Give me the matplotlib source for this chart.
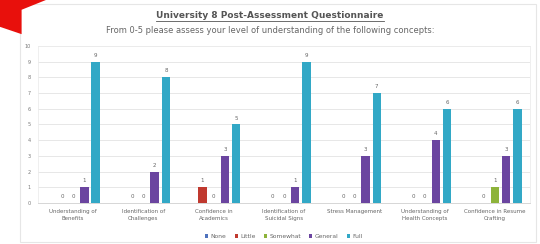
import numpy as np
import matplotlib
matplotlib.use("Agg")
import matplotlib.pyplot as plt
from matplotlib.patches import Polygon, Rectangle
from matplotlib.lines import Line2D

categories = ["Understanding of\nBenefits", "Identification of\nChallenges",
              "Confidence in\nAcademics", "Identification of\nSuicidal Signs",
              "Stress Management", "Understanding of\nHealth Concepts",
              "Confidence in Resume\nCrafting"]
series = ["None", "Little", "Somewhat", "General", "Full"]
none_vals = [np.nan] * 7
little_vals = [0, 0, 1, 0, 0, 0, 0]
somewhat_vals = [0, 0, 0, 0, 0, 0, 1]
general_vals = [1, 2, 3, 1, 3, 4, 3]
full_vals = [9, 8, 5, 9, 7, 6, 6]
colors = ["#4f72bd", "#c0392f", "#8db33a", "#6b45a0", "#32a8c6"]

values = [none_vals, little_vals, somewhat_vals, general_vals, full_vals]

fig = plt.figure(figsize=(5.4, 2.44), dpi=100)
fig.patch.set_facecolor("white")

# card border and red corner
fig.patches.append(Rectangle((0.037, 0.01), 0.955, 0.975, transform=fig.transFigure,
                             fill=False, edgecolor="#e6e6e6", linewidth=0.8))
fig.patches.append(Polygon([(0, 1), (0.085, 1), (0.04, 0.96), (0.04, 0.86), (0, 0.89)],
                           closed=True, transform=fig.transFigure,
                           facecolor="#e8100c", edgecolor="none"))

ax = fig.add_axes([0.0704, 0.168, 0.911, 0.644])
x = np.arange(len(categories))
slot = 0.16
bw = 0.12
for i, (name, vals, c) in enumerate(zip(series, values, colors)):
    pos = x + (i - 2) * slot
    v = np.array(vals, dtype=float)
    ax.bar(pos, np.nan_to_num(v), width=bw, color=c, label=name, zorder=3)
    for p, val in zip(pos, v):
        if not np.isnan(val):
            ax.text(p, val + 0.25, f"{int(val)}", ha="center", va="bottom",
                    fontsize=4, color="#666666")

ax.set_ylim(0, 10)
ax.set_xlim(-0.5, len(categories) - 0.5)
ax.set_yticks(range(0, 11))
ax.tick_params(axis="y", labelsize=3.5, labelcolor="#777777", length=0, pad=5)
ax.set_xticks(x)
ax.set_xticklabels(categories, fontsize=4, color="#666666", linespacing=1.6)
ax.tick_params(axis="x", length=0, pad=4)
ax.grid(axis="y", color="#e3e3e3", linewidth=0.6, zorder=0)
for s in ["left", "right", "top"]:
    ax.spines[s].set_color("#ececec")
    ax.spines[s].set_linewidth(0.6)
ax.spines["bottom"].set_color("#d0d0d0")
ax.spines["bottom"].set_linewidth(0.6)

ax.legend(loc="center", bbox_to_anchor=(0.5, -0.215), ncol=5, frameon=False,
          fontsize=4.3, handlelength=0.5, handleheight=0.5, columnspacing=1.4,
          handletextpad=0.4, labelcolor="#666666")

title = fig.text(0.5, 0.935, "University 8 Post-Assessment Questionnaire", ha="center",
                 va="center", fontsize=6.5, fontweight="bold", color="#555555")
fig.text(0.5, 0.875, "From 0-5 please assess your level of understanding of the following concepts:",
         ha="center", va="center", fontsize=6, color="#666666")

fig.canvas.draw()
bb = title.get_window_extent().transformed(fig.transFigure.inverted())
fig.lines.append(Line2D([bb.x0, bb.x1], [bb.y0 - 0.004, bb.y0 - 0.004],
                        transform=fig.transFigure, color="#555555", linewidth=0.6))

fig.savefig("out.png", dpi=100)
